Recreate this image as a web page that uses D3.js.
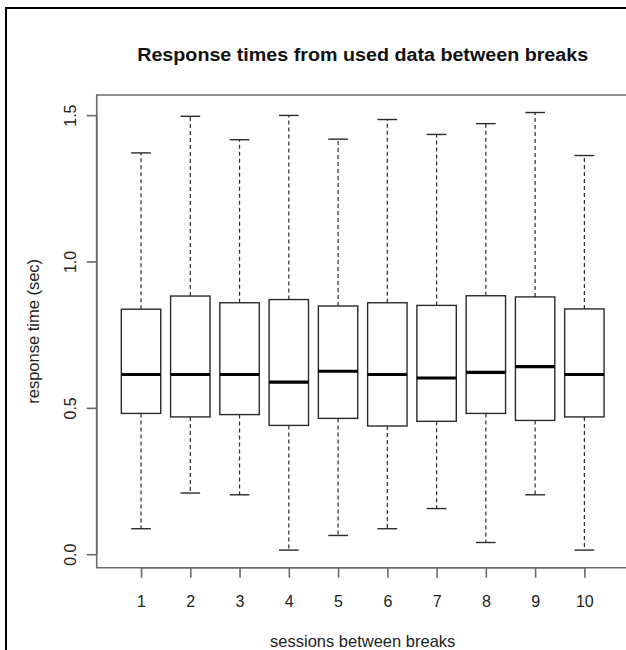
<!DOCTYPE html>
<html>
<head>
<meta charset="utf-8">
<script src="https://cdn.jsdelivr.net/npm/d3@7"></script>
<style>
  html, body { margin: 0; padding: 0; background: #fff; }
  svg { display: block; }
  text { font-family: "Liberation Sans", Arial, Helvetica, sans-serif; }
</style>
</head>
<body>
<svg id="chart" width="626" height="650"></svg>
<script>
// ---- data ----
const sessions   = [1, 2, 3, 4, 5, 6, 7, 8, 9, 10];
const whiskerLow = [0.087, 0.209, 0.203, 0.014, 0.064, 0.087, 0.156, 0.040, 0.203, 0.014];
const q1         = [0.481, 0.469, 0.477, 0.440, 0.464, 0.438, 0.454, 0.481, 0.457, 0.469];
const medians    = [0.614, 0.614, 0.614, 0.588, 0.625, 0.614, 0.602, 0.621, 0.641, 0.614];
const q3         = [0.837, 0.882, 0.859, 0.870, 0.848, 0.859, 0.850, 0.883, 0.879, 0.838];
const whiskerHigh= [1.371, 1.496, 1.416, 1.499, 1.418, 1.485, 1.434, 1.471, 1.509, 1.362];
const yTicks     = [0.0, 0.5, 1.0, 1.5];
const title  = "Response times from used data between breaks";
const xTitle = "sessions between breaks";
const yTitle = "response time (sec)";

const boxes = sessions.map((s, i) => ({
  s, lo: whiskerLow[i], q1: q1[i], med: medians[i], q3: q3[i], hi: whiskerHigh[i]
}));

// ---- layout ----
const svg = d3.select("#chart");
const plot = { left: 96.7, right: 628.7, top: 95, bottom: 567.7 };

const x = d3.scaleLinear().domain([0.1, 10.9]).range([plot.left, plot.right]);
const yMin = 0.0137, yMax = 1.509, pad = (yMax - yMin) * 0.04;
const y = d3.scaleLinear().domain([yMin - pad, yMax + pad]).range([plot.bottom, plot.top]);

const frameColor = "#6a6a6a";
const boxColor = "#2a2a2a";
const boxHalf = 0.4, stapleHalf = 0.2;

// outer image border (left and top edges visible in the crop)
svg.append("line").attr("x1", 6).attr("x2", 6).attr("y1", 7).attr("y2", 650)
  .attr("stroke", "#000").attr("stroke-width", 2);
svg.append("line").attr("x1", 5).attr("x2", 626).attr("y1", 8).attr("y2", 8)
  .attr("stroke", "#000").attr("stroke-width", 2);

// plot frame (left, top, bottom; right edge beyond the crop)
svg.append("path")
  .attr("d", `M${plot.right},${plot.top}H${plot.left}V${plot.bottom}H${plot.right}`)
  .attr("fill", "none").attr("stroke", frameColor).attr("stroke-width", 1.6);

// y axis
const yAxis = d3.axisLeft(y).tickValues(yTicks).tickSize(10).tickFormat(d3.format(".1f"));
const gy = svg.append("g").attr("transform", `translate(${plot.left},0)`).call(yAxis);
gy.select(".domain").attr("d", `M0,${y(yTicks[0])}V${y(yTicks[yTicks.length - 1])}`)
  .attr("stroke", frameColor).attr("stroke-width", 1.6);
gy.selectAll(".tick line").attr("stroke", frameColor).attr("stroke-width", 1.6);
gy.selectAll(".tick text")
  .attr("x", null).attr("dy", null)
  .attr("transform", "translate(-26.5,0) rotate(-90)")
  .attr("text-anchor", "middle").attr("dy", "0.36em")
  .attr("font-size", 16).attr("font-family", "Liberation Sans, Arial, sans-serif")
  .attr("fill", "#222");

// x axis
const xAxis = d3.axisBottom(x).tickValues(sessions).tickSize(10).tickFormat(d3.format("d"));
const gx = svg.append("g").attr("transform", `translate(0,${plot.bottom})`).call(xAxis);
gx.select(".domain").attr("d", `M${x(1)},0H${x(10)}`)
  .attr("stroke", frameColor).attr("stroke-width", 1.6);
gx.selectAll(".tick line").attr("stroke", frameColor).attr("stroke-width", 1.6);
gx.selectAll(".tick text")
  .attr("y", 39).attr("dy", 0)
  .attr("font-size", 16).attr("font-family", "Liberation Sans, Arial, sans-serif")
  .attr("fill", "#222");

// boxes
const g = svg.append("g");
const bx = g.selectAll("g.box").data(boxes).join("g").attr("class", "box");

bx.append("line") // upper whisker
  .attr("x1", d => x(d.s)).attr("x2", d => x(d.s))
  .attr("y1", d => y(d.q3)).attr("y2", d => y(d.hi))
  .attr("stroke", boxColor).attr("stroke-width", 1.2).attr("stroke-dasharray", "4,3");
bx.append("line") // lower whisker
  .attr("x1", d => x(d.s)).attr("x2", d => x(d.s))
  .attr("y1", d => y(d.q1)).attr("y2", d => y(d.lo))
  .attr("stroke", boxColor).attr("stroke-width", 1.2).attr("stroke-dasharray", "4,3");
bx.append("line") // upper staple
  .attr("x1", d => x(d.s - stapleHalf)).attr("x2", d => x(d.s + stapleHalf))
  .attr("y1", d => y(d.hi)).attr("y2", d => y(d.hi))
  .attr("stroke", boxColor).attr("stroke-width", 1.4);
bx.append("line") // lower staple
  .attr("x1", d => x(d.s - stapleHalf)).attr("x2", d => x(d.s + stapleHalf))
  .attr("y1", d => y(d.lo)).attr("y2", d => y(d.lo))
  .attr("stroke", boxColor).attr("stroke-width", 1.4);
bx.append("rect")
  .attr("x", d => x(d.s - boxHalf)).attr("width", d => x(d.s + boxHalf) - x(d.s - boxHalf))
  .attr("y", d => y(d.q3)).attr("height", d => y(d.q1) - y(d.q3))
  .attr("fill", "#fff").attr("stroke", boxColor).attr("stroke-width", 1.4);
bx.append("line") // median
  .attr("x1", d => x(d.s - boxHalf)).attr("x2", d => x(d.s + boxHalf))
  .attr("y1", d => y(d.med)).attr("y2", d => y(d.med))
  .attr("stroke", "#000").attr("stroke-width", 3.2);

// titles
const cx = (plot.left + plot.right) / 2;
svg.append("text").attr("x", cx).attr("y", 61)
  .attr("text-anchor", "middle").attr("font-weight", "bold").attr("font-size", 18)
  .attr("fill", "#111").attr("textLength", 451).attr("lengthAdjust", "spacingAndGlyphs")
  .text(title);
svg.append("text").attr("x", cx).attr("y", 647)
  .attr("text-anchor", "middle").attr("font-size", 16.5).attr("fill", "#222")
  .text(xTitle);
svg.append("text")
  .attr("transform", `translate(33,${(plot.top + plot.bottom) / 2}) rotate(-90)`)
  .attr("text-anchor", "middle").attr("dy", "0.36em").attr("font-size", 16.5).attr("fill", "#222")
  .text(yTitle);
</script>
</body>
</html>
